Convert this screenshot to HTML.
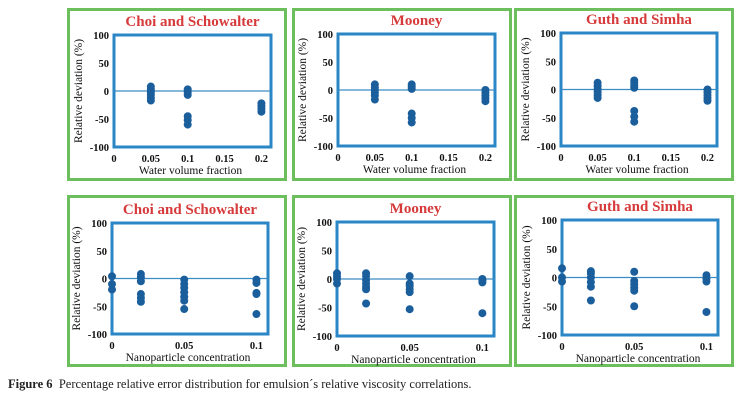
<!DOCTYPE html>
<html><head><meta charset="utf-8"><style>
body{margin:0;background:#fff;width:742px;height:404px;overflow:hidden;font-family:"Liberation Serif",serif}
#cap{position:absolute;left:8px;top:377px;font-size:12.5px;color:#222}
</style></head><body>
<svg id="chart" width="742" height="404" style="position:absolute;left:0;top:0"></svg>
<div id="cap"><b>Figure 6</b>&nbsp; Percentage relative error distribution for emulsion´s relative viscosity correlations.</div>
<script>
const titles=["Choi and Schowalter","Mooney","Guth and Simha","Choi and Schowalter","Mooney","Guth and Simha"];
const topXTicks=[0,0.05,0.1,0.15,0.2];
const botXTicks=[0,0.05,0.1];
const yTicks=[100,50,0,-50,-100];
const topCats=[0.05,0.1,0.2];
const botCats=[0,0.02,0.05,0.1];
const choiTop=[[8,3,-2,-7,-12,-17],[3,-2,-7,-45,-52,-60],[-22,-27,-32,-37]];
const mooneyTop=[[10,5,0,-5,-10,-17],[10,6,2,-42,-50,-58],[0,-5,-10,-15,-20]];
const guthTop=[[12,6,0,-5,-10,-15],[16,12,7,3,-38,-48,-57],[0,-5,-10,-15,-20]];
const choiBot=[[4,-10,-20],[8,2,-5,-28,-35,-42],[-2,-10,-17,-25,-33,-40,-55],[-2,-8,-26,-28,-64]];
const mooneyBot=[[10,5,0,-8],[10,5,-2,-8,-14,-18,-43],[5,-8,-12,-18,-23,-53],[0,-3,-6,-60]];
const guthBot=[[16,0,-7],[11,7,0,-8,-16,-40],[10,-6,-12,-18,-23,-50],[4,-2,-7,-60]];
const svg=document.getElementById('chart');
const NS='http://www.w3.org/2000/svg';
function mk(tag,attrs,parent){const e=document.createElementNS(NS,tag);for(const k in attrs)e.setAttribute(k,attrs[k]);(parent||svg).appendChild(e);return e;}
const panels=[
 {box:[67,8,220,173],plot:[114,35,157,112],xmax:0.213,ticks:topXTicks,cats:topCats,data:choiTop,xl:"Water volume fraction"},
 {box:[292,8,220,173],plot:[338,34,157,112],xmax:0.213,ticks:topXTicks,cats:topCats,data:mooneyTop,xl:"Water volume fraction"},
 {box:[514,8,220,173],plot:[561,33,156,113],xmax:0.213,ticks:topXTicks,cats:topCats,data:guthTop,xl:"Water volume fraction"},
 {box:[67,195,220,172],plot:[112,223,156,111],xmax:0.108,ticks:botXTicks,cats:botCats,data:choiBot,xl:"Nanoparticle concentration"},
 {box:[292,195,220,172],plot:[337,222,157,114],xmax:0.108,ticks:botXTicks,cats:botCats,data:mooneyBot,xl:"Nanoparticle concentration"},
 {box:[514,195,220,172],plot:[562,220,156,115],xmax:0.108,ticks:botXTicks,cats:botCats,data:guthBot,xl:"Nanoparticle concentration"}
];
panels.forEach((p,i)=>{
 const g=mk('g',{});
 
 
 const [bx,by,bw,bh]=p.box;
 const fr=mk('rect',{x:bx+1.5,y:by+1.5,width:bw-3,height:bh-3,fill:'#fff',stroke:'#6cbf5c','stroke-width':3},g);
 
 
 const [px,py,pw,ph]=p.plot;
 const X=v=>px+v/p.xmax*pw;
 const Y=v=>py+(100-v)/200*ph;
 const t=mk('text',{x:px+pw/2,y:py-9,'text-anchor':'middle','font-size':15,'font-weight':'bold',fill:'#d63a3a'},g);
 t.textContent=titles[i];
 
 
 const pr=mk('rect',{x:px,y:py,width:pw,height:ph,fill:'none',stroke:'#2a86c4','stroke-width':3},g);
 
 
 const zl=mk('line',{x1:px,x2:px+pw,y1:Y(0),y2:Y(0),stroke:'#3a8cc4','stroke-width':1.2},g);
 
 
 yTicks.forEach(v=>{
  const tt=mk('text',{x:px-5,y:Y(v)+4,'text-anchor':'end','font-size':10.5,'font-weight':'bold',fill:'#111'},g);
  tt.textContent=v;
  
  
 });
 p.ticks.forEach(v=>{
  const tt=mk('text',{x:X(v),y:py+ph+15,'text-anchor':'middle','font-size':10.5,'font-weight':'bold',fill:'#111'},g);
  tt.textContent=v;
  
  
 });
 const xl=mk('text',{x:px+pw/2-2,y:py+ph+27,'text-anchor':'middle','font-size':11.5,fill:'#111'},g);
 xl.textContent=p.xl;
 
 
 const yl=mk('text',{x:0,y:0,'text-anchor':'middle','font-size':11.5,fill:'#111',transform:`translate(${px-32},${py+ph/2}) rotate(-90)`},g);
 yl.textContent="Relative deviation (%)";
 
 
 p.cats.forEach((c,ci)=>{
  p.data[ci].forEach(v=>{
   const d=mk('circle',{cx:X(c),cy:Y(v),r:4,fill:'#1b5e9c'},g);
   
   
  });
 });
});
</script>
</body></html>
